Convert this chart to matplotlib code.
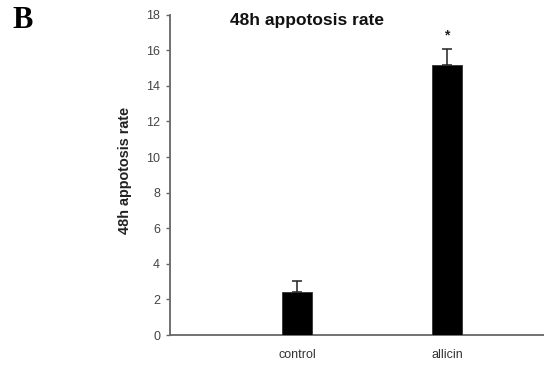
import matplotlib
matplotlib.use("Agg")
import matplotlib.pyplot as plt

categories = ["control", "allicin"]
values = [2.43, 15.15]
errors = [0.6, 0.95]
yticks = [0, 2, 4, 6, 8, 10, 12, 14, 16, 18]

W, H = 544, 365
fig = plt.figure(figsize=(W / 100, H / 100), dpi=100)
ax = fig.add_axes([170 / W, (365 - 335) / H, 1 - 170 / W, (335 - 14.7) / H])

x = list(range(len(categories)))
ax.bar(x, values, width=0.2, color="black", edgecolor="#333333", linewidth=0.6, zorder=3)
ax.errorbar(x, values, yerr=[[0] * len(values), errors], fmt="none",
            ecolor="#222222", elinewidth=1.1, capsize=3.6, capthick=1.1, zorder=2)
ax.text(1, values[1] + errors[1] + 0.35, "*", ha="center", va="bottom",
        fontsize=10, family="Liberation Sans", fontweight="bold", color="#222222")

ax.set_xlim(-0.847, 1.647)
ax.set_ylim(0, 18)
ax.set_yticks(yticks)
ax.set_yticklabels([str(t) for t in yticks], family="Liberation Sans", fontsize=9, color="#444444")
ax.set_xticks(x)
ax.set_xticklabels(categories, family="Liberation Sans", fontsize=9, color="#333333")
ax.tick_params(axis="x", length=0, pad=10)
ax.tick_params(axis="y", length=3.2, width=1.0, color="#666666", pad=4)
for s in ["top", "right"]:
    ax.spines[s].set_visible(False)
for s in ["left", "bottom"]:
    ax.spines[s].set_color("#666666")
    ax.spines[s].set_linewidth(1.3)

fig.text(125 / W, 1 - 170 / H, "48h appotosis rate", ha="center", va="center", rotation=90,
         family="Liberation Sans", fontweight="bold", fontsize=10.4, color="#222222")
fig.text(307.5 / W, 1 - 20 / H, "48h appotosis rate", ha="center", va="center",
         family="Liberation Sans", fontweight="bold", fontsize=12.5, color="#111111")
fig.text(12 / W, 1 - 28.5 / H, "B", ha="left", va="baseline",
         family="Liberation Serif", fontweight="bold", fontsize=22)

fig.savefig("out.png", dpi=100)
